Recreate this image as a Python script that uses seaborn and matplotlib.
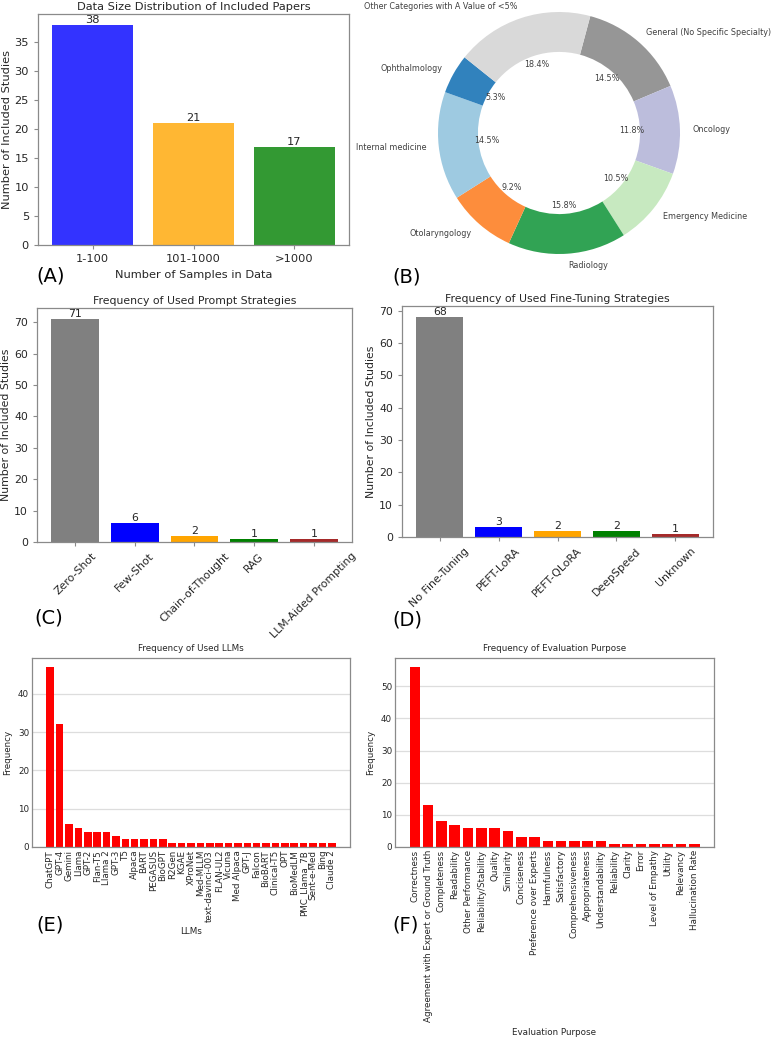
import matplotlib
matplotlib.use("Agg")
import matplotlib.pyplot as plt
import seaborn as sns

# -- Data -----------------------------------------------------------------------
SIZE_BINS   = ["1-100", "101-1000", ">1000"]
SIZE_COUNTS = [38, 21, 17]
SIZE_COLORS = ["blue", "orange", "green"]

SPECIALTIES = [
    "General (No Specific Specialty)", "Oncology", "Emergency Medicine",
    "Radiology", "Otolaryngology", "Internal medicine", "Ophthalmology",
    "Other Categories with A Value of <5%",
]
SPECIALTY_COUNTS = [11, 9, 8, 12, 7, 11, 4, 14]
SPECIALTY_COLORS = ["#969696", "#bcbddc", "#c7e9c0", "#31a354",
                    "#fd8d3c", "#9ecae1", "#3182bd", "#d9d9d9"]

PROMPTS       = ["Zero-Shot", "Few-Shot", "Chain-of-Thought", "RAG", "LLM-Aided Prompting"]
PROMPT_COUNTS = [71, 6, 2, 1, 1]

FINETUNES       = ["No Fine-Tuning", "PEFT-LoRA", "PEFT-QLoRA", "DeepSpeed", "Unknown"]
FINETUNE_COUNTS = [68, 3, 2, 2, 1]

STRATEGY_COLORS = ["gray", "blue", "orange", "green", "brown"]

LLMS = [
    "ChatGPT", "GPT-4", "Gemini", "Llama", "GPT-2", "Flan-T5", "Llama 2", "GPT-3",
    "T5", "Alpaca", "BART", "PEGASUS", "BioGPT", "R2Gen", "KGAE", "XProNet",
    "Med-MLLM", "text-davinci-003", "FLAN-UL2", "Vicuna", "Med Alpaca", "GPT-J",
    "Falcon", "BioBART", "Clinical-T5", "OPT", "BioMedLM", "PMC_Llama_7B",
    "Sent-e-Med", "Bing", "Claude 2",
]
LLM_COUNTS = [47, 32, 6, 5, 4, 4, 4, 3, 2, 2, 2, 2, 2,
              1, 1, 1, 1, 1, 1, 1, 1, 1, 1, 1, 1, 1, 1, 1, 1, 1, 1]

PURPOSES = [
    "Correctness", "Agreement with Expert or Ground Truth", "Completeness",
    "Readability", "Other Performance", "Reliability/Stability", "Quality",
    "Similarity", "Conciseness", "Preference over Experts", "Harmfulness",
    "Satisfactory", "Comprehensiveness", "Appropriateness", "Understandability",
    "Reliability", "Clarity", "Error", "Level of Empathy", "Utility",
    "Relevancy", "Hallucination Rate",
]
PURPOSE_COUNTS = [56, 13, 8, 7, 6, 6, 6, 5, 3, 3, 2, 2, 2, 2, 2,
                  1, 1, 1, 1, 1, 1, 1]

# -- Layout ---------------------------------------------------------------------
W, H = 773, 1049
TEXT = "#262626"
SPINE = "#8a8a8a"


def rect(l, t, r, b):
    """Pixel box -> figure fraction rect."""
    return [l / W, 1 - b / H, (r - l) / W, (b - t) / H]


def bar_xlim(ax, n):
    """Matplotlib-like 5% margins around n bars of width 0.8."""
    pad = 0.05 * (n - 0.2)
    ax.set_xlim(-0.4 - pad, n - 0.6 + pad)


def frame(ax):
    for s in ax.spines.values():
        s.set_visible(True)
        s.set_color(SPINE)
        s.set_linewidth(0.9)


def count_bars(ax, cats, vals, colors, title, fs, xlabel=None, rot=0, alpha=1.0):
    sns.barplot(x=cats, y=vals, hue=cats, palette=colors, legend=False,
                saturation=1, alpha=alpha, linewidth=0, ax=ax)
    for c in ax.containers:
        ax.bar_label(c, fontsize=fs, color=TEXT, padding=0)
    bar_xlim(ax, len(cats))
    ax.set_title(title, fontsize=fs, color=TEXT, pad=3)
    ax.set_ylabel("Number of Included Studies", fontsize=fs, color=TEXT, labelpad=2)
    ax.set_xlabel(xlabel or "", fontsize=fs, color=TEXT)
    ax.tick_params(labelsize=fs, colors=TEXT, length=3, width=0.8)
    ax.tick_params(axis="both", color=SPINE)
    if rot:
        plt.setp(ax.get_xticklabels(), rotation=rot, ha="center")
    frame(ax)


def freq_bars(ax, cats, vals, title, xlabel, fs=6.3):
    sns.barplot(x=cats, y=vals, color="red", saturation=1, linewidth=0, ax=ax)
    bar_xlim(ax, len(cats))
    ax.set_title(title, fontsize=fs, color=TEXT, pad=5)
    ax.set_ylabel("Frequency", fontsize=fs, color=TEXT)
    ax.set_xlabel(xlabel, fontsize=fs, color=TEXT)
    ax.tick_params(labelsize=fs, colors=TEXT, length=0, pad=2)
    plt.setp(ax.get_xticklabels(), rotation=90)
    ax.grid(axis="y", color="#dddddd", linewidth=0.9)
    ax.grid(axis="x", visible=False)
    ax.set_axisbelow(True)
    frame(ax)


sns.set_theme(style="ticks")
plt.rcParams["font.family"] = ["DejaVu Sans"]

fig = plt.figure(figsize=(W / 100, H / 100), dpi=100)

# (A) data size
ax_a = fig.add_axes(rect(38, 14, 349, 245))
count_bars(ax_a, SIZE_BINS, SIZE_COUNTS, SIZE_COLORS,
           "Data Size Distribution of Included Papers", 8.2,
           xlabel="Number of Samples in Data", alpha=0.8)

# (B) specialties donut
ax_b = fig.add_axes(rect(377.5, -48.5, 740.5, 314.5))
ax_b.pie(SPECIALTY_COUNTS, labels=SPECIALTIES, colors=SPECIALTY_COLORS,
         autopct="%1.1f%%", startangle=75, counterclock=False,
         labeldistance=1.1, pctdistance=0.6,
         wedgeprops={"width": 0.33, "linewidth": 0},
         textprops={"fontsize": 5.8, "color": "#404040"})
ax_b.set_xlim(-1.5, 1.5)
ax_b.set_ylim(-1.5, 1.5)
ax_b.axis("off")

# (C) prompt strategies
ax_c = fig.add_axes(rect(37, 308, 352, 542))
count_bars(ax_c, PROMPTS, PROMPT_COUNTS, STRATEGY_COLORS,
           "Frequency of Used Prompt Strategies", 7.8, rot=45)

# (D) fine-tuning strategies
ax_d = fig.add_axes(rect(402, 306, 713, 537))
count_bars(ax_d, FINETUNES, FINETUNE_COUNTS, STRATEGY_COLORS,
           "Frequency of Used Fine-Tuning Strategies", 7.8, rot=45)

# (E) / (F) frequency panels
sns.set_style("whitegrid")
plt.rcParams["font.family"] = ["DejaVu Sans"]
ax_e = fig.add_axes(rect(32, 658, 350, 847))
freq_bars(ax_e, LLMS, LLM_COUNTS, "Frequency of Used LLMs", "LLMs")

ax_f = fig.add_axes(rect(395, 658, 714, 847))
freq_bars(ax_f, PURPOSES, PURPOSE_COUNTS, "Frequency of Evaluation Purpose",
          "Evaluation Purpose")

# panel letters
for letter, x, y in [("(A)", 36, 276), ("(B)", 392, 277), ("(C)", 34, 618),
                     ("(D)", 392, 620), ("(E)", 36, 925), ("(F)", 392, 925)]:
    fig.text(x / W, 1 - y / H, letter, fontsize=14, color="black",
             ha="left", va="center")

fig.savefig("out.png", dpi=100)
